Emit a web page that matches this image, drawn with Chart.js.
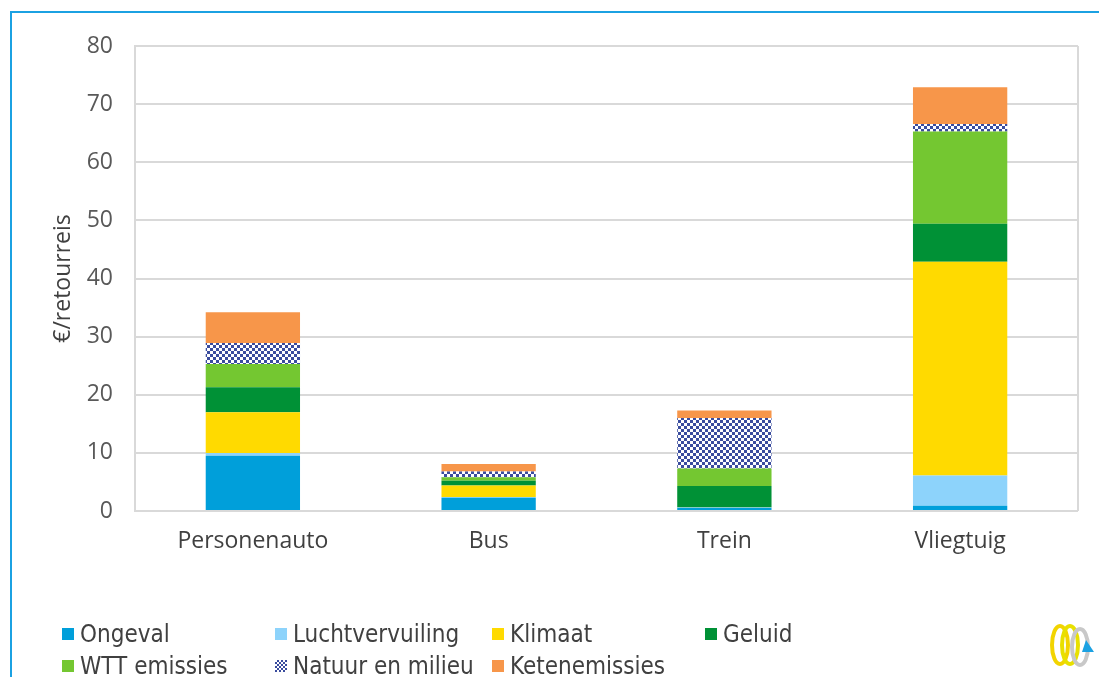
<!DOCTYPE html>
<html><head><meta charset="utf-8">
<script src="https://cdn.jsdelivr.net/npm/chart.js@4/dist/chart.umd.min.js"></script>
<style>
html,body{margin:0;padding:0;background:#fff;width:1099px;height:677px;overflow:hidden;}
#frame{position:absolute;left:10px;top:11px;width:1200px;height:800px;border-left:2px solid #1BA1E2;border-top:2px solid #1BA1E2;}
#wrap{position:absolute;left:0;top:0;width:1099px;height:600px;}
#legend{position:absolute;left:0;top:0;width:1099px;height:677px;pointer-events:none;font-family:"DejaVu Sans Condensed","DejaVu Sans",sans-serif;font-size:24px;color:#404040;}
.li{position:absolute;display:flex;align-items:center;white-space:nowrap;}
.sw{width:12px;height:12px;margin-right:6px;}
#logo{position:absolute;left:1046px;top:620px;}
</style></head>
<body>
<div id="frame"></div>
<div id="wrap"><canvas id="c" width="1099" height="600"></canvas></div>
<div id="legend"></div>
<svg id="logo" width="52" height="50" viewBox="0 0 52 50">
  <ellipse cx="14" cy="25" rx="8" ry="19" fill="none" stroke="#F2D400" stroke-width="4"/>
  <ellipse cx="24" cy="25" rx="8" ry="19" fill="none" stroke="#E8E000" stroke-width="4"/>
  <ellipse cx="34" cy="27" rx="8" ry="18" fill="none" stroke="#C8C8C8" stroke-width="4"/>
  <polygon points="40,20 48,32 36,32" fill="#1BA1E2"/>
</svg>
<script>
const categories = ["Personenauto", "Bus", "Trein", "Vliegtuig"];
const seriesNames = ["Ongeval", "Luchtvervuiling", "Klimaat", "Geluid", "WTT emissies", "Natuur en milieu", "Ketenemissies"];
const ongeval        = [9.5, 2.3, 0.5, 0.9];
const luchtvervuiling= [0.5, 0.1, 0.1, 5.2];
const klimaat        = [7.0, 2.0, 0.0, 36.8];
const geluid         = [4.3, 0.8, 3.7, 6.5];
const wttEmissies    = [4.0, 0.6, 3.0, 15.9];
const natuurEnMilieu = [3.6, 1.0, 8.7, 1.3];
const ketenemissies  = [5.3, 1.3, 1.3, 6.3];
const yTicks = [0, 10, 20, 30, 40, 50, 60, 70, 80];

function checker(){
  const p = document.createElement('canvas'); p.width = 6; p.height = 6;
  const g = p.getContext('2d');
  g.fillStyle = '#ffffff'; g.fillRect(0,0,6,6);
  g.fillStyle = '#3A4C9E'; g.fillRect(0,0,3,3); g.fillRect(3,3,3,3);
  return g.createPattern(p, 'repeat');
}
const ctx = document.getElementById('c').getContext('2d');
const pat = checker();
const values = [ongeval, luchtvervuiling, klimaat, geluid, wttEmissies, natuurEnMilieu, ketenemissies];
const colors = ['#009FDA', '#8DD3FB', '#FFDA00', '#009136', '#74C731', pat, '#F7964A'];

const chart = new Chart(ctx, {
  type: 'bar',
  data: {
    labels: categories,
    datasets: seriesNames.map((n, i) => ({
      label: n, data: values[i], backgroundColor: colors[i], borderWidth: 0,
      categoryPercentage: 1.0, barPercentage: 0.4
    }))
  },
  options: {
    responsive: false, animation: false,
    layout: { padding: { left: 0, top: 46, right: 21, bottom: 0 } },
    plugins: { legend: { display: false }, tooltip: { enabled: false } },
    scales: {
      x: {
        stacked: true,
        grid: { display: false, drawTicks: false },
        border: { display: false },
        ticks: { color: '#404040', font: { family: 'Open Sans', size: 23 }, padding: 17 },
        afterFit: s => { s.height = 89; }
      },
      y: {
        stacked: true, min: 0, max: 80,
        afterBuildTicks: s => { s.ticks = yTicks.map(v => ({ value: v })); },
        grid: { color: '#D9D9D9', lineWidth: 2, drawTicks: false },
        border: { display: true, color: '#D9D9D9', width: 2 },
        ticks: { color: '#595959', font: { family: 'Open Sans', size: 23 }, padding: 22 },
        title: { display: true, text: '€/retourreis', color: '#404040', font: { family: 'Open Sans', size: 23 }, padding: { top: 50, bottom: 0 } },
        afterFit: s => { s.width = 135; }
      }
    }
  },
  plugins: [{
    id: 'rightBorder',
    afterDraw(c) {
      const a = c.chartArea, g = c.ctx;
      g.save(); g.strokeStyle = '#D9D9D9'; g.lineWidth = 2;
      g.beginPath(); g.moveTo(a.right, a.top); g.lineTo(a.right, a.bottom); g.stroke();
      g.restore();
    }
  }]
});

// HTML legend built from the chart's datasets
const pos = [[62,634],[275,634],[492,634],[705,634],[62,666],[275,666],[492,666]];
const leg = document.getElementById('legend');
chart.data.datasets.forEach((d, i) => {
  const el = document.createElement('div'); el.className = 'li';
  el.style.left = pos[i][0] + 'px'; el.style.top = (pos[i][1] - 14) + 'px'; el.style.height = '28px';
  const sw = document.createElement('span'); sw.className = 'sw';
  if (i === 5) { sw.style.background = 'repeating-conic-gradient(#3A4C9E 0 25%, #fff 0 50%) 0 0/4px 4px'; }
  else sw.style.background = d.backgroundColor;
  const t = document.createElement('span'); t.textContent = d.label;
  el.appendChild(sw); el.appendChild(t); leg.appendChild(el);
});
</script>
</body></html>
